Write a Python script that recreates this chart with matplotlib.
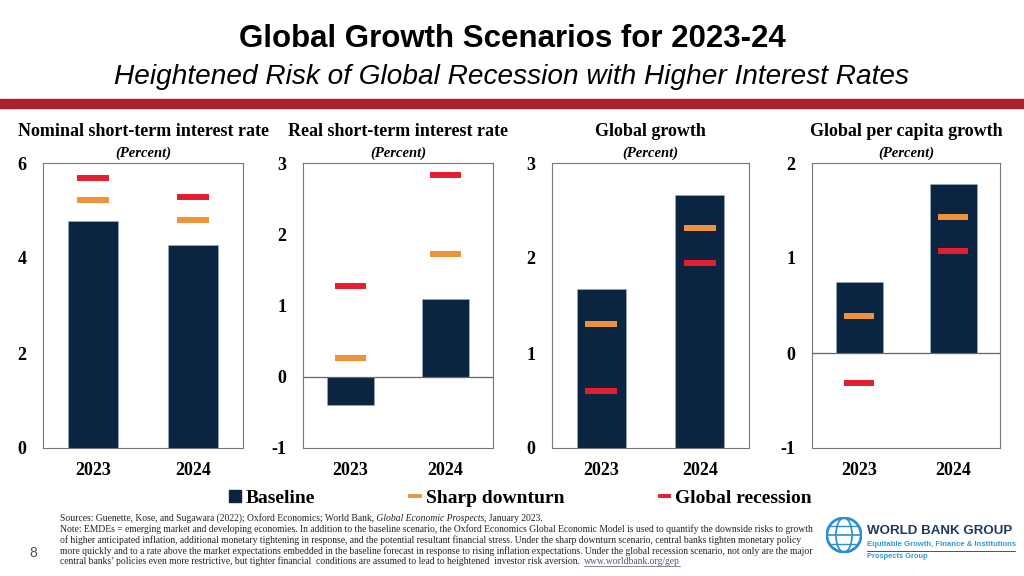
import matplotlib
matplotlib.use("Agg")
import matplotlib.pyplot as plt
from matplotlib import font_manager
from matplotlib.patches import Circle, Ellipse
from matplotlib.lines import Line2D

# data
years = ["2023", "2024"]
panel_titles = ["Nominal short-term interest rate", "Real short-term interest rate",
                "Global growth", "Global per capita growth"]
baseline = [[4.78, 4.27], [-0.39, 1.09], [1.67, 2.66], [0.75, 1.78]]
sharp_downturn = [[5.23, 4.79], [0.26, 1.72], [1.31, 2.32], [0.39, 1.43]]
global_recession = [[5.68, 5.29], [1.27, 2.83], [0.60, 1.95], [-0.32, 1.07]]
y_limits = [(0, 6), (-1, 3), (0, 3), (-1, 2)]
y_ticks = [[0, 2, 4, 6], [-1, 0, 1, 2, 3], [0, 1, 2, 3], [-1, 0, 1, 2]]

NAVY = "#0B2442"
ORANGE = "#F0923A"
RED = "#E51E2F"
BAND = "#AE1F2E"

installed = {f.name for f in font_manager.fontManager.ttflist}
narrow = "Liberation Sans Narrow" if "Liberation Sans Narrow" in installed else "Liberation Sans"
serif = "Liberation Serif"

W, H = 1024, 576
fig = plt.figure(figsize=(W / 100, H / 100), dpi=100)


def fx(px):
    return px / W


def fy(py):
    return 1 - py / H


# header
fig.text(0.5, fy(39), "Global Growth Scenarios for 2023-24", ha="center", va="center",
         family=narrow, weight="bold", fontsize=22.5)
fig.text(0.5, fy(77), "Heightened Risk of Global Recession with Higher Interest Rates",
         ha="center", va="center", family=narrow, style="italic", fontsize=20.2)
fig.patches.append(plt.Rectangle((0, fy(108)), 1, (108 - 99) / H, transform=fig.transFigure,
                                 color=BAND, zorder=0))

# panels (left, right in pixels)
panel_px = [(43, 243), (303, 493), (552, 749), (812, 1000)]
top, bottom = 163, 448
x = [0, 1]
for i, (l, r) in enumerate(panel_px):
    ax = fig.add_axes([fx(l), fy(bottom), (r - l) / W, (bottom - top) / H])
    ax.bar(x, baseline[i], width=0.5, color=NAVY, edgecolor="#9FB3C8", linewidth=0.4, zorder=2)
    ax.hlines(sharp_downturn[i], [v - 0.16 for v in x], [v + 0.16 for v in x],
              color=ORANGE, linewidth=4.3, zorder=3)
    ax.hlines(global_recession[i], [v - 0.16 for v in x], [v + 0.16 for v in x],
              color=RED, linewidth=4.3, zorder=3)
    ax.set_xlim(-0.5, 1.5)
    ax.set_ylim(*y_limits[i])
    ax.set_yticks(y_ticks[i])
    ax.set_yticklabels([str(t) for t in y_ticks[i]], family=serif, weight="bold", fontsize=13)
    ax.set_xticks(x)
    ax.set_xticklabels(years, family=serif, weight="bold", fontsize=13)
    ax.tick_params(axis="y", length=0, pad=12)
    ax.tick_params(axis="x", length=0, pad=10)
    if y_limits[i][0] < 0:
        ax.axhline(0, color="#666666", linewidth=0.9, zorder=4)
    for s in ax.spines.values():
        s.set_color("#777777")
        s.set_linewidth(0.8)
    ax.text(0.5, 1 + 32 / (bottom - top), panel_titles[i], transform=ax.transAxes,
            ha="center", va="center", family=serif, weight="bold", fontsize=13)
    ax.text(0.5, 1 + 10 / (bottom - top), "(Percent)", transform=ax.transAxes,
            ha="center", va="center", family=serif, weight="bold", style="italic", fontsize=10.5)

# legend
handles = [Line2D([], [], marker="s", linestyle="none", color=NAVY, markersize=9),
           Line2D([], [], color=ORANGE, linewidth=2.8),
           Line2D([], [], color=RED, linewidth=2.8)]
fig.legend(handles, ["Baseline", "Sharp downturn", "Global recession"], loc="center",
           bbox_to_anchor=(fx(521), fy(498)), ncol=3, frameon=False,
           prop={"family": serif, "weight": "bold", "size": 14},
           handlelength=0.5, handletextpad=0.3, columnspacing=4.9)

# notes
note_lines = [
    "Note: EMDEs = emerging market and developing economies. In addition to the baseline scenario, the Oxford Economics Global Economic Model is used to quantify the downside risks to growth",
    "of higher anticipated inflation, additional monetary tightening in response, and the potential resultant financial stress. Under the sharp downturn scenario, central banks tighten monetary policy",
    "more quickly and to a rate above the market expectations embedded in the baseline forecast in response to rising inflation expectations. Under the global recession scenario, not only are the major",
    "central banks\u2019 policies even more restrictive, but tighter financial  conditions are assumed to lead to heightened  investor risk aversion.",
]
note_size = 6.9
renderer = fig.canvas.get_renderer()
src_parts = [("Sources: Guenette, Kose, and Sugawara (2022); Oxford Economics; World Bank,", "normal"),
             (" Global Economic Prospects", "italic"), (", January 2023.", "normal")]
xpos = fx(60)
for txt, st in src_parts:
    t = fig.text(xpos, fy(521), txt, ha="left", va="baseline", family=serif, style=st,
                 fontsize=note_size, color="#222222")
    xpos = fig.transFigure.inverted().transform(t.get_window_extent(renderer))[1][0]
for k, line in enumerate(note_lines):
    t = fig.text(fx(60), fy(532 + 10.8 * k), line, ha="left", va="baseline", family=serif,
                 fontsize=note_size, color="#222222")
last = t.get_window_extent(renderer)
url_x = fig.transFigure.inverted().transform((last.x1 + 4, 0))[0]
u = fig.text(url_x, fy(532 + 10.8 * 3), "www.worldbank.org/gep", ha="left", va="baseline",
             family=serif, fontsize=note_size, color="#555577")
ub = u.get_window_extent(renderer)
fig.add_artist(Line2D([ub.x0 / W, ub.x1 / W], [ub.y0 / H + 0.001, ub.y0 / H + 0.001],
                      color="#555577", linewidth=0.5))

fig.text(fx(33), fy(553), "8", ha="center", va="center", family="Liberation Sans",
         fontsize=10, color="#555555")

# logo
lax = fig.add_axes([fx(826), fy(553), 36 / W, 36 / H])
lax.set_xlim(-1, 1)
lax.set_ylim(-1, 1)
lax.set_aspect("equal")
lax.axis("off")
lax.add_patch(Circle((0, 0), 0.95, fill=False, color="#2A8FD0", linewidth=2))
lax.add_patch(Ellipse((0, 0), 0.9, 1.9, fill=False, color="#2A8FD0", linewidth=1.2))
lax.plot([-0.95, 0.95], [0, 0], color="#2A8FD0", linewidth=1.2)
lax.plot([-0.8, 0.8], [0.5, 0.5], color="#2A8FD0", linewidth=1.0)
lax.plot([-0.8, 0.8], [-0.5, -0.5], color="#2A8FD0", linewidth=1.0)
fig.text(fx(867), fy(531), "WORLD BANK GROUP", ha="left", va="center", family="Liberation Sans",
         weight="bold", fontsize=9.6, color="#1D3A5F")
fig.text(fx(867), fy(545), "Equitable Growth, Finance & Institutions", ha="left", va="center",
         family="Liberation Sans", weight="bold", fontsize=5.6, color="#2E9BD6")
fig.add_artist(Line2D([fx(867), fx(1015)], [fy(551), fy(551)], color="#1D3A5F", linewidth=0.6))
fig.text(fx(867), fy(557), "Prospects Group", ha="left", va="center", family="Liberation Sans",
         weight="bold", fontsize=5.4, color="#2E9BD6")

fig.savefig("out.png", dpi=100)
